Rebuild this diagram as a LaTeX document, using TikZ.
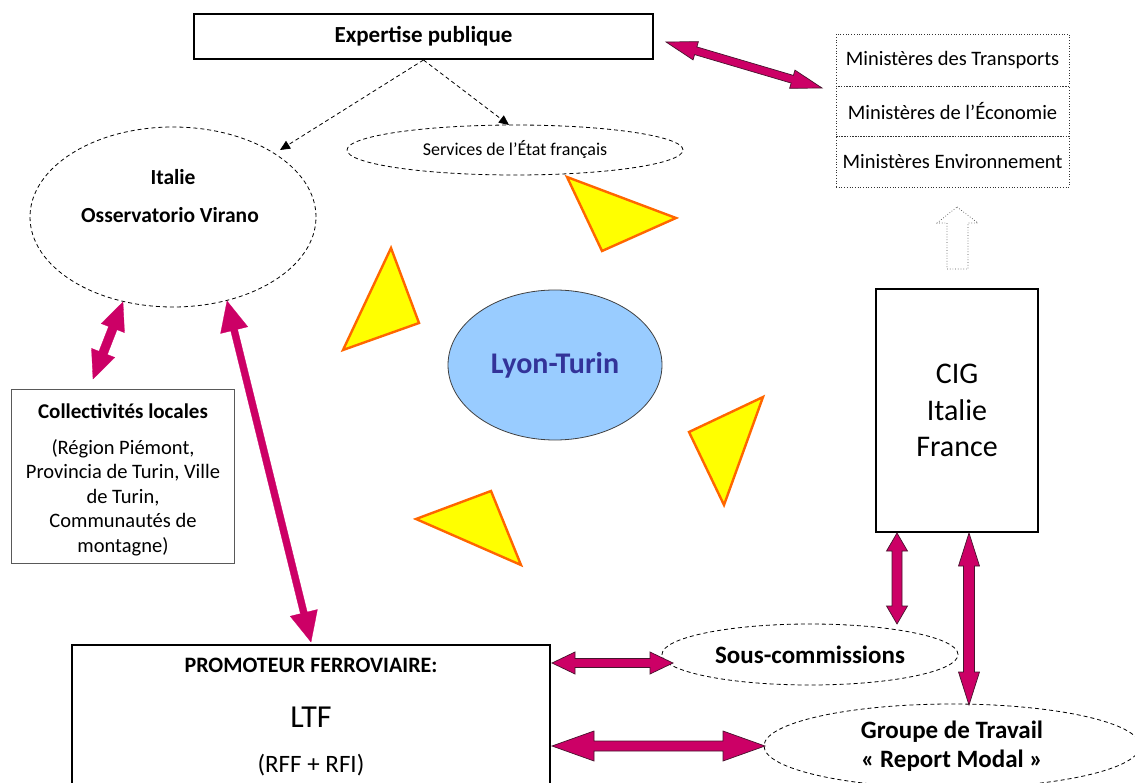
\documentclass[tikz,border=0pt]{standalone}
\usepackage{fontspec}
\setmainfont{Carlito}
\usetikzlibrary{shapes.geometric,calc,arrows.meta}
\definecolor{mag}{RGB}{204,0,102}
\definecolor{arrowedge}{RGB}{70,20,45}
\definecolor{triyel}{RGB}{255,255,0}
\definecolor{triorg}{RGB}{255,102,0}
\definecolor{ltblue}{RGB}{153,204,255}
\definecolor{ltdark}{RGB}{51,51,153}

% #1 options, #2 A, #3 B, #4 shaft half width, #5 head half width, #6 head length
\newcommand\fatarrow[6]{%
  \coordinate (fa-a) at ($(#2)!#6!(#3)$);
  \coordinate (fa-b) at ($(#3)!#6!(#2)$);
  \filldraw[#1] (#2) -- ($(fa-a)!#5!90:(#3)$) -- ($(fa-a)!#4!90:(#3)$)
    -- ($(fa-b)!#4!-90:(#2)$) -- ($(fa-b)!#5!-90:(#2)$) -- (#3)
    -- ($(fa-b)!#5!90:(#2)$) -- ($(fa-b)!#4!90:(#2)$)
    -- ($(fa-a)!#4!-90:(#3)$) -- ($(fa-a)!#5!-90:(#3)$) -- cycle;
}

\tikzset{
  fs/.style={font=\fontsize{#1pt}{#1pt}\selectfont},
  fb/.style={font=\fontsize{#1pt}{#1pt}\selectfont\bfseries},
  txt/.style={inner sep=0pt, anchor=center},
  solidbox/.style={draw=black, line width=2pt, rectangle, inner sep=0pt},
  dotbox/.style={draw=black!80, dotted, line width=0.7pt, rectangle, inner sep=0pt, minimum width=233pt},
  dashell/.style={draw=black, ellipse, inner sep=0pt, line width=0.8pt, dash pattern=on 4pt off 3pt},
  tri/.style={fill=triyel, draw=triorg, line width=2.4pt, line join=miter},
  magout/.style={fill=mag, draw=arrowedge, line width=0.7pt},
  magplain/.style={fill=mag, draw=mag, line width=0.3pt},
  dasharrow/.style={draw=black, line width=0.8pt, dash pattern=on 4pt off 3pt, -{Triangle[length=10pt,width=9pt]}},
}

\begin{document}
\begin{tikzpicture}[x=1pt,y=-1pt]
\useasboundingbox (0,0) rectangle (1135,783);
\clip (0,0) rectangle (1135,783);

% top box
\node[solidbox, minimum width=459pt, minimum height=45pt, fb=23] (expert) at (423.5,36.5) {Expertise publique};

% ministries
\node[dotbox, minimum height=52pt, fs=20.5] (mintr) at (952.5,60) {Ministères des Transports};
\node[dotbox, minimum height=50pt, fs=20.5] (mineco) at (952.5,111) {Ministères de l’Économie};
\node[dotbox, minimum height=51pt, fs=20.5] (minenv) at (952.5,161.5) {Ministères Environnement};

% Italie ellipse
\node[dashell, minimum width=286pt, minimum height=180pt] (italie) at (173,217) {};
\node[txt, fb=21.5] (italieA) at (173,177) {Italie};
\node[txt, fb=21.5] (italieB) at (170,215) {Osservatorio Virano};

% Services
\node[dashell, minimum width=336pt, minimum height=50pt, fs=18] (services) at (515,150) {Services de l’État français};

% Lyon-Turin
\node[ellipse, fill=ltblue, draw=black!75, line width=0.8pt, minimum width=214pt, minimum height=150pt, inner sep=0pt, fb=30, text=ltdark] (lyon) at (555,365) {Lyon-Turin};

% triangles
\filldraw[tri] (567,177) -- (676,218) -- (602,251) -- cycle;
\filldraw[tri] (391,248) -- (419,323) -- (343,350) -- cycle;
\filldraw[tri] (689,432) -- (763,397) -- (724,505) -- cycle;
\filldraw[tri] (416,519) -- (491,491) -- (521,565) -- cycle;

% Collectivites
\node[rectangle, draw=black!65, line width=1pt, minimum width=223pt, minimum height=173pt, inner sep=0pt] (coll) at (123,476.5) {};
\node[txt, fb=21] (collT) at (123,411.5) {Collectivités locales};
\node[txt, align=center, font=\fontsize{20.5pt}{24.5pt}\selectfont] (collB) at (123,497.5) {(Région Piémont,\\Provincia de Turin, Ville\\de Turin,\\Communautés de\\montagne)};

% CIG
\node[solidbox, line width=2.4pt, minimum width=162pt, minimum height=243pt, align=center, font=\fontsize{30pt}{36.5pt}\selectfont] (cig) at (957,410.5) {CIG\\Italie\\France};

% hollow arrow CIG -> ministries
\draw[black!70, dotted, line width=0.7pt] (957,207) -- (978,223) -- (968,223) -- (968,269) -- (947,269) -- (947,223) -- (937,223) -- cycle;

% Sous-commissions
\node[dashell, minimum width=296pt, minimum height=61pt, fb=25] (sous) at (810,654.5) {Sous-commissions};

% Groupe de travail
\node[dashell, minimum width=376pt, minimum height=84pt, align=center, font=\fontsize{25pt}{28.5pt}\selectfont\bfseries] (groupe) at (952,746) {Groupe de Travail\\« Report Modal »};

% LTF
\node[solidbox, line width=2.4pt, minimum width=478pt, minimum height=200pt] (ltf) at (311,745) {};
\node[txt, fb=22] (ltfA) at (311,665) {PROMOTEUR FERROVIAIRE:};
\node[txt, fs=32] (ltfB) at (311,717) {LTF};
\node[txt, fs=25] (ltfC) at (311,765) {(RFF + RFI)};

% dashed arrows
\coordinate (itTop) at (280,150);
\coordinate (svTop) at (509,125);
\draw[dasharrow] (expert.south) -- (itTop);
\draw[dasharrow] (expert.south) -- (svTop);

% magenta arrows
\coordinate (exR) at (666,42);
\coordinate (minL) at (822,88);
\fatarrow{magout}{exR}{minL}{4pt}{9.5pt}{31pt}

\coordinate (itS1) at (123,302);
\coordinate (collN) at (93,379);
\fatarrow{magplain}{itS1}{collN}{4.5pt}{12.5pt}{28pt}

\coordinate (itS2) at (227,301);
\coordinate (ltfN) at (311,642);
\fatarrow{magplain}{itS2}{ltfN}{3.5pt}{14pt}{30pt}

\coordinate (cigS1) at (897,533);
\coordinate (sousN) at (897,624);
\fatarrow{magout}{cigS1}{sousN}{5pt}{10.5pt}{18pt}

\coordinate (cigS2) at (969,533);
\coordinate (grN) at (969,705);
\fatarrow{magout}{cigS2}{grN}{5.5pt}{10.5pt}{33pt}

\coordinate (ltfE1) at (552,663);
\coordinate (sousW) at (673,663);
\fatarrow{magout}{ltfE1}{sousW}{4.5pt}{11pt}{23pt}

\coordinate (ltfE2) at (552,746);
\coordinate (grW) at (765,746);
\fatarrow{magout}{ltfE2}{grW}{5pt}{15pt}{42pt}
\end{tikzpicture}
\end{document}
